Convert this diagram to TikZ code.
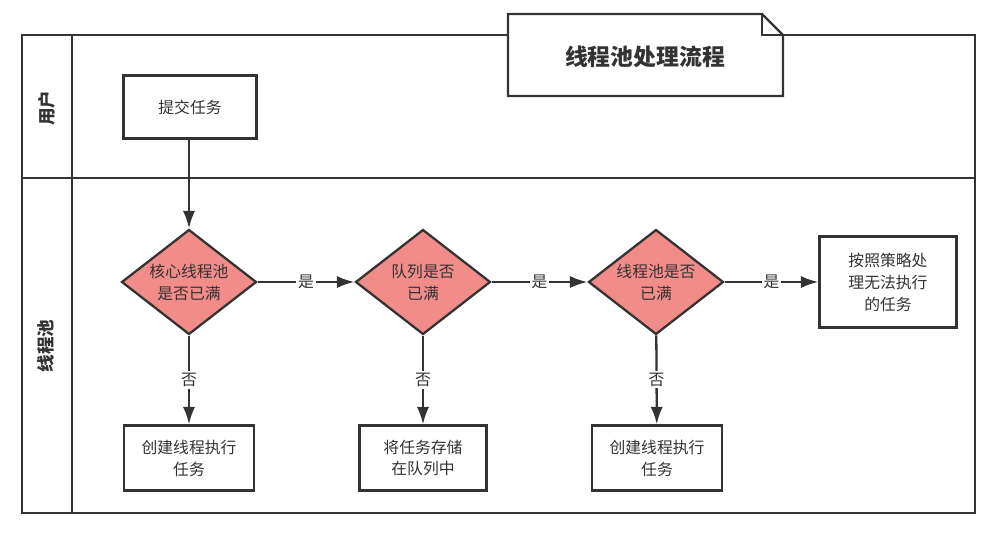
\documentclass[tikz,border=0pt]{standalone}
\usepackage{fontspec}
\setmainfont{Noto Sans CJK SC}
\usetikzlibrary{arrows.meta,shapes.geometric,positioning}
\definecolor{linegray}{HTML}{333333}
\definecolor{checkred}{RGB}{241,140,136}

\begin{document}
\begin{tikzpicture}[x=0.02cm,y=-0.02cm,line width=1.3pt,draw=linegray,
  text=linegray,font=\fontsize{9}{12.5}\selectfont,
  task node/.style={rectangle,draw,fill=white,align=center,minimum width=2.6cm,minimum height=1.3cm},
  check node/.style={diamond,draw,fill=checkred,align=center,inner sep=0pt,aspect=1.29,
    minimum width=2.7cm,minimum height=2.1cm},
  lane label/.style={rotate=90,font=\fontsize{10}{12}\selectfont\bfseries}]
\useasboundingbox (0,0) rectangle (1008,545);
%frame
  \draw (22,35) rectangle (975,513);
  \draw (72,35) -- (72,513);
  \draw (22,178) -- (975,178);
  \node[lane label] (lane1) at (47,108) {用户};
  \node[lane label] (lane2) at (46,346) {线程池};
%title
  \draw[fill=white] (508,14) -- (762,14) -- (783,35) -- (783,96) -- (508,96) -- cycle;
  \draw (762,14) -- (762,35) -- (783,35);
  \node[font=\fontsize{13}{16}\selectfont\bfseries] (title) at (645,57) {线程池处理流程};
%1
  \node[task node,minimum width=2.66cm,minimum height=1.26cm] (submit) at (190,107) {提交任务};
%2
  \node[check node] (core) at (189,282) {核心线程池\\是否已满};
  \node[task node] (create1) at (189,458) {创建线程执行\\任务};
%3
  \node[check node] (queue) at (423,282) {队列是否\\已满};
  \node[task node,minimum width=2.54cm] (store) at (423,458) {将任务存储\\在队列中};
%4
  \node[check node] (pool) at (656,282) {线程池是否\\已满};
  \node[task node] (create2) at (657,458) {创建线程执行\\任务};
%5
  \node[task node,minimum width=2.74cm,minimum height=1.82cm] (reject) at (888,282) {按照策略处\\理无法执行\\的任务};
%paths
  \path[-{Latex[length=10pt,width=7pt]},every node/.style={fill=white,inner sep=1pt}]
    (submit.south -| core.north) edge (core)
    (core) edge node {是} (queue)
           edge node {否} (create1)
    (queue) edge node {是} (pool)
            edge node {否} (store)
    (pool) edge node {是} (reject)
           edge node {否} (create2);
\end{tikzpicture}
\end{document}
